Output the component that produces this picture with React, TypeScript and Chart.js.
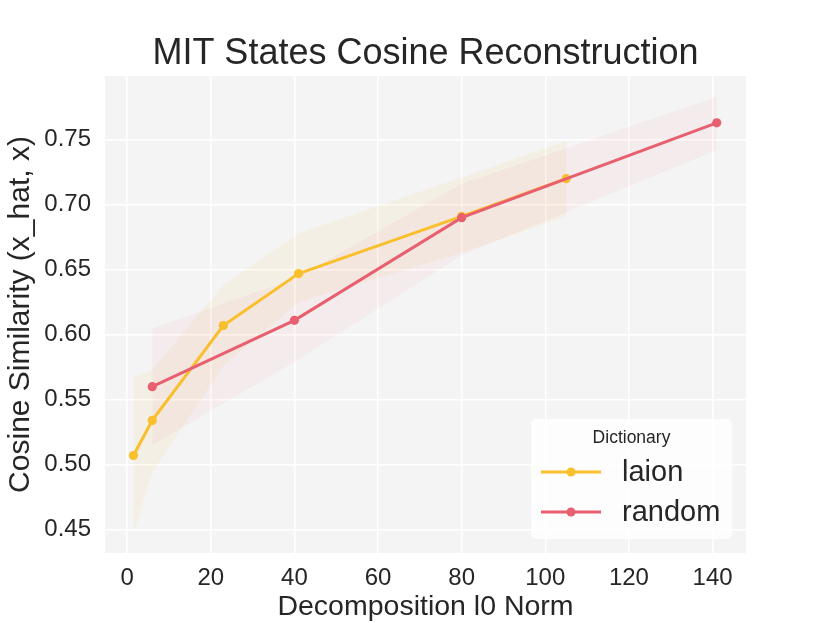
import React, { useEffect, useRef } from "react";
import { Chart, registerables } from "chart.js";

Chart.register(...registerables);

// ---- data ----
const laionX = [1.5, 6, 23, 41, 80, 105];
const laionY = [0.507, 0.534, 0.607, 0.647, 0.691, 0.72];
const laionUpper = [0.567, 0.573, 0.638, 0.678, 0.721, 0.749];
const laionLower = [0.447, 0.494, 0.576, 0.625, 0.663, 0.691];

const randomX = [6, 40, 80, 141];
const randomY = [0.56, 0.611, 0.69, 0.763];
const randomUpper = [0.605, 0.643, 0.716, 0.783];
const randomLower = [0.515, 0.579, 0.661, 0.742];

const xTicks = [0, 20, 40, 60, 80, 100, 120, 140];
const yTicks = [0.45, 0.5, 0.55, 0.6, 0.65, 0.7, 0.75];

const seriesNames = ["laion", "random"];
const legendTitle = "Dictionary";
const chartTitle = "MIT States Cosine Reconstruction";
const xLabel = "Decomposition l0 Norm";
const yLabel = "Cosine Similarity (x_hat, x)";

const LAION = "#f9bf2c";
const RANDOM = "#e8606f";
const TEXT = "#262626";
const FONT = "'Liberation Sans', Arial, sans-serif";

const pts = (xs: number[], ys: number[]) => xs.map((x, i) => ({ x, y: ys[i] }));

const bgPlugin = {
  id: "bgPlugin",
  beforeDraw(chart: any) {
    const { ctx, chartArea } = chart;
    ctx.save();
    ctx.fillStyle = "#ffffff";
    ctx.fillRect(0, 0, chart.width, chart.height);
    ctx.fillStyle = "#f4f4f4";
    ctx.fillRect(chartArea.left, chartArea.top, chartArea.right - chartArea.left, chartArea.bottom - chartArea.top);
    ctx.restore();
  },
};

const titlePlugin = {
  id: "centerTitle",
  afterDraw(chart: any) {
    const { ctx, chartArea } = chart;
    ctx.save();
    ctx.fillStyle = TEXT;
    ctx.textAlign = "center";
    ctx.textBaseline = "alphabetic";
    ctx.font = `36px ${FONT}`;
    ctx.fillText(chartTitle, (chartArea.left + chartArea.right) / 2, chartArea.top - 12);
    ctx.restore();
  },
};

const legendPlugin = {
  id: "innerLegend",
  afterDraw(chart: any) {
    const { ctx, chartArea } = chart;
    const w = 201;
    const h = 120;
    const x0 = chartArea.right - 14 - w;
    const y0 = chartArea.bottom - 14 - h;
    ctx.save();
    ctx.fillStyle = "rgba(255,255,255,0.8)";
    ctx.beginPath();
    (ctx as any).roundRect(x0, y0, w, h, 5);
    ctx.fill();
    ctx.fillStyle = TEXT;
    ctx.textAlign = "center";
    ctx.textBaseline = "middle";
    ctx.font = `17.5px ${FONT}`;
    ctx.fillText(legendTitle, x0 + w / 2, y0 + 19);
    const colors = [LAION, RANDOM];
    seriesNames.forEach((name, i) => {
      const cy = y0 + 53 + i * 40;
      ctx.strokeStyle = colors[i];
      ctx.lineWidth = 3;
      ctx.beginPath();
      ctx.moveTo(x0 + 10, cy);
      ctx.lineTo(x0 + 70, cy);
      ctx.stroke();
      ctx.fillStyle = colors[i];
      ctx.beginPath();
      ctx.arc(x0 + 40, cy, 4.5, 0, Math.PI * 2);
      ctx.fill();
      ctx.fillStyle = TEXT;
      ctx.textAlign = "left";
      ctx.font = `29px ${FONT}`;
      ctx.fillText(name, x0 + 91, cy + 1);
    });
    ctx.restore();
  },
};

export default function App() {
  const ref = useRef<HTMLCanvasElement | null>(null);

  useEffect(() => {
    if (!ref.current) return;
    Chart.defaults.font.family = FONT;
    const chart = new Chart(ref.current, {
      type: "line",
      data: {
        datasets: [
          {
            label: seriesNames[1],
            data: pts(randomX, randomY),
            borderColor: RANDOM,
            backgroundColor: RANDOM,
            borderWidth: 3,
            pointRadius: 4.6,
            pointBorderWidth: 0,
            pointBackgroundColor: RANDOM,
            fill: false,
            order: 0,
          },
          {
            label: seriesNames[0],
            data: pts(laionX, laionY),
            borderColor: LAION,
            backgroundColor: LAION,
            borderWidth: 3,
            pointRadius: 4.6,
            pointBorderWidth: 0,
            pointBackgroundColor: LAION,
            fill: false,
            order: 1,
          },
          {
            label: "laion upper",
            data: pts(laionX, laionUpper),
            borderWidth: 0,
            borderColor: "rgba(0,0,0,0)",
            pointRadius: 0,
            backgroundColor: "rgba(249,191,44,0.07)",
            fill: "+1",
            order: 3,
          },
          {
            label: "laion lower",
            data: pts(laionX, laionLower),
            borderWidth: 0,
            borderColor: "rgba(0,0,0,0)",
            pointRadius: 0,
            fill: false,
            order: 3,
          },
          {
            label: "random upper",
            data: pts(randomX, randomUpper),
            borderWidth: 0,
            borderColor: "rgba(0,0,0,0)",
            pointRadius: 0,
            backgroundColor: "rgba(232,96,111,0.06)",
            fill: "+1",
            order: 2,
          },
          {
            label: "random lower",
            data: pts(randomX, randomLower),
            borderWidth: 0,
            borderColor: "rgba(0,0,0,0)",
            pointRadius: 0,
            fill: false,
            order: 2,
          },
        ],
      },
      options: {
        responsive: false,
        animation: false,
        layout: { padding: { left: 0, right: 84, top: 76, bottom: 0 } },
        plugins: {
          legend: { display: false },
          tooltip: { enabled: false },
          title: { display: false },
        },
        scales: {
          x: {
            type: "linear",
            min: -5.3,
            max: 148,
            afterBuildTicks: (s: any) => {
              s.ticks = xTicks.map((value) => ({ value }));
            },
            afterFit: (s: any) => {
              s.height = 70;
            },
            ticks: {
              color: TEXT,
              font: { size: 24, family: FONT },
              padding: 11,
              maxRotation: 0,
              callback: (v: any) => String(v),
            },
            grid: { color: "#ffffff", lineWidth: 1.5, drawTicks: false },
            border: { display: false },
            title: {
              display: true,
              text: xLabel,
              color: TEXT,
              font: { size: 28.5, family: FONT, lineHeight: 1.1 },
              padding: { top: 0, bottom: 0 },
            },
          },
          y: {
            type: "linear",
            min: 0.432,
            max: 0.799,
            afterBuildTicks: (s: any) => {
              s.ticks = yTicks.map((value) => ({ value }));
            },
            afterFit: (s: any) => {
              s.width = 105;
            },
            ticks: {
              color: TEXT,
              font: { size: 24, family: FONT },
              padding: 14,
              callback: (v: any) => Number(v).toFixed(2),
            },
            grid: { color: "#ffffff", lineWidth: 1.5, drawTicks: false },
            border: { display: false },
            title: {
              display: true,
              text: yLabel,
              color: TEXT,
              font: { size: 30, family: FONT, lineHeight: 1.1 },
              padding: { top: 4, bottom: 0 },
            },
          },
        },
      },
      plugins: [bgPlugin, titlePlugin, legendPlugin],
    } as any);
    return () => chart.destroy();
  }, []);

  return (
    <div style={{ position: "absolute", left: 0, top: 0, width: 830, height: 623, background: "#fff" }}>
      <canvas ref={ref} width={830} height={623} style={{ display: "block" }} />
    </div>
  );
}
